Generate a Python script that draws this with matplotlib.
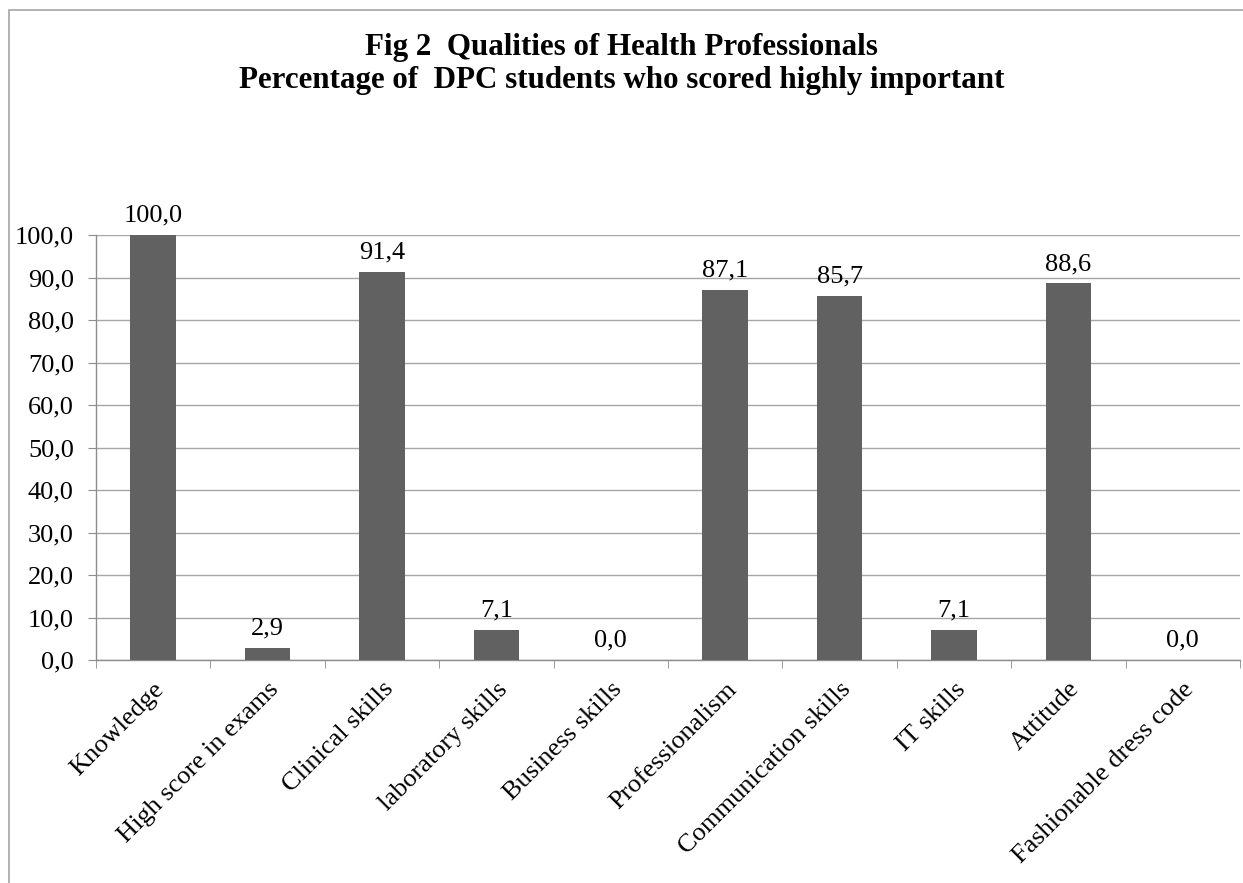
import matplotlib
matplotlib.use("Agg")
import matplotlib.pyplot as plt
from matplotlib.patches import Rectangle

categories = ["Knowledge", "High score in exams", "Clinical skills", "laboratory skills",
              "Business skills", "Professionalism", "Communication skills", "IT skills",
              "Attitude", "Fashionable dress code"]
values = [100.0, 2.9, 91.4, 7.1, 0.0, 87.1, 85.7, 7.1, 88.6, 0.0]
yticks = [0, 10, 20, 30, 40, 50, 60, 70, 80, 90, 100]
title = "Fig 2  Qualities of Health Professionals\nPercentage of  DPC students who scored highly important"

plt.rcParams['font.family'] = ['Liberation Serif', 'DejaVu Serif']

W, H = 1243, 883
fig = plt.figure(figsize=(W/100, H/100), dpi=100)
fig.patch.set_facecolor('white')
# outer frame
fig.add_artist(Rectangle((9/W, -0.01), 1.2, (H-10)/H + 0.01, transform=fig.transFigure,
                         fill=False, edgecolor='#a6a6a6', linewidth=1.2))

left, right = 96, 1240
top, bottom = 235, 660
ax = fig.add_axes([left/W, 1 - bottom/H, (right-left)/W, (bottom-top)/H])

fs = 19
x = list(range(len(categories)))
ax.bar(x, values, width=0.4, color='#616161', zorder=3)
ax.set_xlim(-0.5, len(categories) - 0.5)
ax.set_ylim(0, 100)
ax.set_yticks(yticks)
ax.set_yticklabels([f"{v:.1f}".replace('.', ',') for v in yticks], fontsize=fs)
ax.yaxis.grid(True, color='#a6a6a6', linewidth=1.0, zorder=0)
for s in ['top', 'right']:
    ax.spines[s].set_visible(False)
for s in ['left', 'bottom']:
    ax.spines[s].set_color('#8c8c8c')
    ax.spines[s].set_linewidth(1.0)
ax.tick_params(axis='y', length=6, color='#8c8c8c', pad=10)
ax.set_xticks(x)
ax.set_xticklabels(categories, rotation=45, ha='right', rotation_mode='anchor', fontsize=fs)
ax.tick_params(axis='x', length=0, pad=13)
# boundary ticks
ax.set_xticks([i - 0.5 for i in range(len(categories) + 1)], minor=True)
ax.tick_params(axis='x', which='minor', length=6, color='#8c8c8c')

for xi, v in zip(x, values):
    ax.annotate(f"{v:.1f}".replace('.', ','), (xi, v), xytext=(0, 6), textcoords='offset points',
                ha='center', va='bottom', fontsize=fs)

fig.text(0.5, 1 - 64/H, title, ha='center', va='center', fontsize=22.3, fontweight='bold',
         linespacing=1.2)

fig.savefig("out.png", dpi=100)
